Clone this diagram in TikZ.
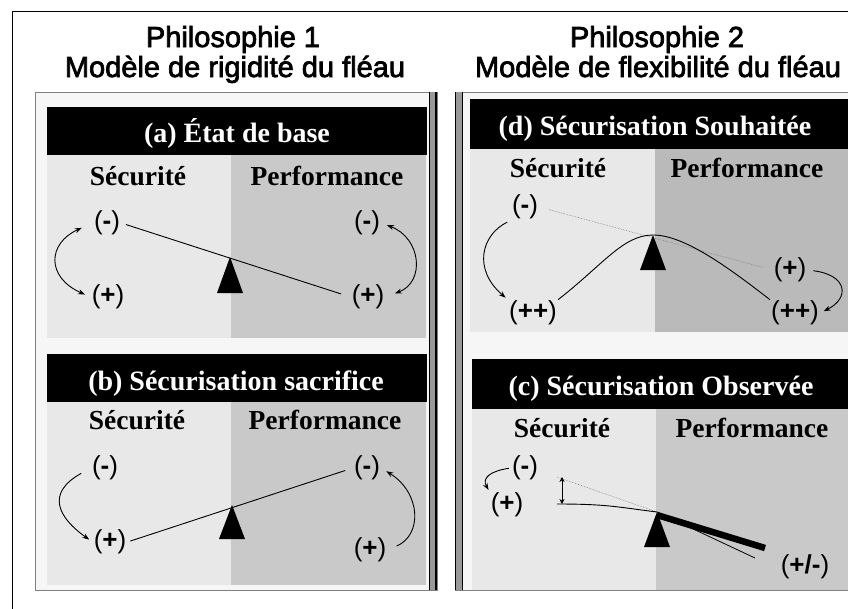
\documentclass[tikz,border=0pt]{standalone}
\usepackage{fontspec}
\setmainfont{Liberation Serif}
\setsansfont{Liberation Sans}
\newfontfamily\titlefont[FakeBold=2.5]{Liberation Sans}
\usetikzlibrary{arrows.meta}
\definecolor{boxbg}{gray}{0.965}
\definecolor{secbg}{gray}{0.91}
\definecolor{perfbg}{gray}{0.79}
\definecolor{perfdark}{gray}{0.73}
\definecolor{edgegray}{gray}{0.6}
\newcommand{\signe}[1]{(\textbf{#1})}

\begin{document}
\begin{tikzpicture}[x=1pt,y=-1pt,
  titre/.style={font=\titlefont\fontsize{29}{29}\selectfont,anchor=base},
  hdr/.style={text=white,font=\rmfamily\bfseries\fontsize{28}{28}\selectfont,anchor=base},
  lbl/.style={font=\rmfamily\bfseries\fontsize{27.5}{27.5}\selectfont,anchor=base},
  sgn/.style={font=\sffamily\fontsize{26}{26}\selectfont,inner sep=1pt},
  fleche/.style={line width=0.9pt},
  fleau/.style={line width=0.9pt},
  trace/.style={gray,line width=0.6pt,densely dotted},
  >={Stealth[length=7pt,width=5pt]}]
\useasboundingbox(0,0) rectangle (848,608);
\clip(0,0) rectangle (848,608);
\fill[white](0,0) rectangle (848,608);
\draw[line width=1.6pt](12.5,700) -- (12.5,11.5) -- (900,11.5);
\node[titre](t1) at (233,47){Philosophie 1};
\node[titre](t2) at (235,77){Modèle de rigidité du fléau};
\node[titre](t3) at (657,47){Philosophie 2};
\node[titre](t4) at (658,77){Modèle de flexibilité du fléau};
\filldraw[fill=boxbg,draw=gray](35.5,92.5) rectangle (437,590);
\filldraw[fill=boxbg,draw=gray](455,92.5) rectangle (900,590);
\fill[edgegray](429,92) rectangle (437,590);
\fill[edgegray](455,92) rectangle (463,590);
\draw[line width=1.3pt](429.5,92) -- (429.5,590);
\draw[line width=1.3pt](436,92) -- (436,590);
\draw[line width=1.3pt](455.5,92) -- (455.5,590);
\draw[line width=1.3pt](462.5,92) -- (462.5,590);
% (a)
\fill[black](47,107) rectangle (427,155);
\node[hdr](ha) at (237,142){(a) État de base};
\fill[secbg](47,155) rectangle (231,338);
\fill[perfbg](231,155) rectangle (426,338);
\node[lbl](sa) at (138,185){Sécurité};
\node[lbl](pa) at (327,185){Performance};
\node[sgn](a1) at (107,223){\signe{-}};
\node[sgn](a2) at (108,297){\signe{+}};
\node[sgn](a3) at (367,223){\signe{-}};
\node[sgn](a4) at (368,297){\signe{+}};
\coordinate(fa) at (230,257);
\fill(fa) -- ++(-13,36) -- ++(26,0) -- cycle;
\draw[fleau,shorten <=5pt,shorten >=10pt](a1.east) -- (a4.west);
\draw[fleche,<->,shorten <=12pt,shorten >=6pt](a1.west) .. controls +(-45,20) and +(-45,-20) .. (a2.west);
\draw[fleche,<->,shorten <=6pt,shorten >=10pt](a3.east) .. controls +(40,15) and +(40,-15) .. (a4.east);
% (b)
\fill[black](47,354) rectangle (427,402);
\node[hdr](hb) at (236,390){(b) Sécurisation sacrifice};
\fill[secbg](47,402) rectangle (231,585);
\fill[perfbg](231,402) rectangle (426,585);
\node[lbl](sb) at (137,429){Sécurité};
\node[lbl](pb) at (325,429){Performance};
\node[sgn](b1) at (105,468){\signe{-}};
\node[sgn](b2) at (110,542){\signe{+}};
\node[sgn](b3) at (367,468){\signe{-}};
\node[sgn](b4) at (370,550){\signe{+}};
\coordinate(fb) at (232,505);
\fill(fb) -- ++(-13,34) -- ++(26,0) -- cycle;
\draw[fleau,shorten <=3pt,shorten >=8pt](b2.east) -- (b3.west);
\draw[fleche,->,shorten <=11pt,shorten >=4pt](b1.west) .. controls +(-45,25) and +(-35,-25) .. (b2.west);
\draw[fleche,->,shorten <=10pt,shorten >=6pt](b4.east) .. controls +(35,-15) and +(40,25) .. (b3.east);
% (d)
\fill[black](470,99) rectangle (900,149);
\node[hdr](hd) at (655,135){(d) Sécurisation Souhaitée};
\fill[secbg](470,149) rectangle (655,332);
\fill[perfdark](655,149) rectangle (900,332);
\node[lbl](sd) at (558,177){Sécurité};
\node[lbl](pd) at (747,177){Performance};
\node[sgn](d1) at (525,207){\signe{-}};
\node[sgn](d2) at (533,313){\signe{++}};
\node[sgn](d3) at (790,270){\signe{+}};
\node[sgn](d4) at (795,313){\signe{++}};
\coordinate(fd) at (653,235);
\draw[trace,shorten <=10pt,shorten >=10pt](d1.east) -- (d3.west);
\draw[fleau](d2.north east) .. controls +(45,-35) and +(-30,0) .. (fd) .. controls +(30,0) and +(-45,-35) .. (d4.north west);
\fill(fd) -- ++(-13,35) -- ++(26,0) -- cycle;
\draw[fleche,->,shorten <=4pt,shorten >=3pt](d1.south west) .. controls +(-30,15) and +(-35,-30) .. (d2.north west);
\draw[fleche,->,shorten <=6pt,shorten >=4pt](d3.east) .. controls +(40,5) and +(30,-15) .. (d4.east);
% (c)
\fill[black](472,359) rectangle (900,409);
\node[hdr](hc) at (661,395){(c) Sécurisation Observée};
\fill[secbg](472,409) rectangle (656,590);
\fill[perfbg](656,409) rectangle (900,590);
\node[lbl](sc) at (562,437){Sécurité};
\node[lbl](pc) at (752,437){Performance};
\node[sgn](c1) at (525,468){\signe{-}};
\node[sgn](c2) at (507,505){\signe{+}};
\node[sgn](c3) at (805,567){\signe{+/-}};
\coordinate(fc) at (657,512);
\coordinate(ct) at (557,477);
\coordinate(cb) at (557,504);
\coordinate(ce) at (765,548);
\coordinate(cf) at (755,558);
\draw[trace](ct) -- (fc);
\draw[fleau](cb) .. controls +(50,0) and +(-40,-5) .. (fc);
\draw[fleche,<->,>={Stealth[length=5pt,width=5pt]}]([xshift=5pt]ct) -- ([xshift=5pt]cb);
\draw[line width=0.8pt](fc) -- (cf);
\draw[line width=6.5pt]([yshift=-3pt]fc) -- (ce);
\fill(fc) -- ++(-13,35) -- ++(26,0) -- cycle;
\draw[fleche,->,shorten <=2pt,shorten >=2pt](c1.west) .. controls +(-20,3) and +(-8,-14) .. (c2.north west);
\end{tikzpicture}
\end{document}
